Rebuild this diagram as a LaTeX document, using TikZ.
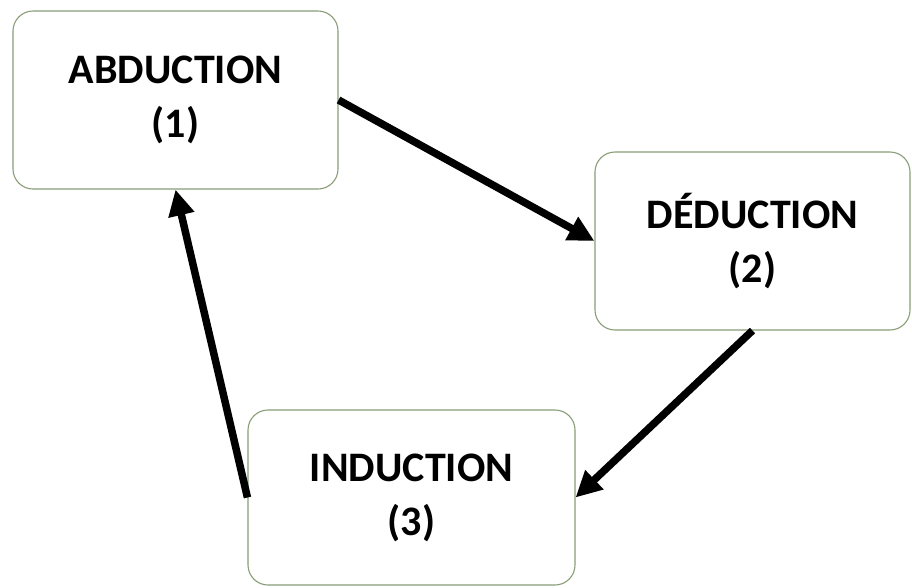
\documentclass[tikz,border=0pt]{standalone}
\usepackage{fontspec}
\setmainfont{Carlito}
\usetikzlibrary{arrows.meta}
\definecolor{boxline}{HTML}{8A9E78}
\begin{document}
\begin{tikzpicture}[x=1pt,y=-1pt,
  stagebox/.style={draw=boxline, line width=1.1pt, rounded corners=20pt, fill=white,
    align=center, inner sep=0pt, font=\fontsize{42}{54}\selectfont\bfseries},
  flow/.style={line width=7.5pt, -{Triangle[length=26pt,width=25pt]}}]
\useasboundingbox[fill=white] (0,0) rectangle (912,587);
\node[stagebox, minimum width=325pt, minimum height=178pt] (abd) at (175.5,100) {ABDUCTION\\(1)};
\node[stagebox, minimum width=315pt, minimum height=178pt] (ded) at (752.5,241) {DÉDUCTION\\(2)};
\node[stagebox, minimum width=327pt, minimum height=175pt] (ind) at (411.5,497.5) {INDUCTION\\(3)};
\draw[flow] (abd.east) -- (ded.west);
\draw[flow] (ded.south) -- (ind.east);
\draw[flow] (ind.west) -- (abd.south);
\end{tikzpicture}
\end{document}
